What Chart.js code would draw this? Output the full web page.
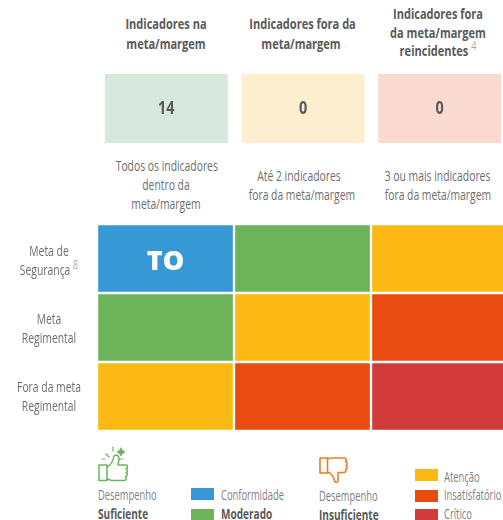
<!DOCTYPE html>
<html lang="pt">
<head>
  <meta charset="UTF-8" />
  <title>Indicadores na meta/margem</title>
  <script src="https://cdn.jsdelivr.net/npm/chart.js"></script>
  <style>
    html, body { margin: 0; padding: 0; background: #fff; overflow: hidden; }
    body { position: relative; width: 503px; height: 520px; font-family: "Open Sans", sans-serif; color: #6d6e71; font-size: 14px; }
    canvas { position: absolute; }
    .t { position: absolute; white-space: nowrap; line-height: 19px; transform: scaleX(0.74); transform-origin: left center; }
    .c { text-align: center; width: 136px; transform-origin: center center; }
    .h { font-weight: bold; color: #58595b; font-size: 14.5px; transform: scaleX(0.76); }
    .l { transform: scaleX(0.67); color: #808285; }
    b { color: #58595b; font-size: 15px; }
    sup { font-size: 12px; line-height: 0; color: #a7a9ac; font-weight: normal; }
    .sw { position: absolute; width: 23px; height: 12px; }
    svg { position: absolute; }
  </style>
</head>
<body>
  <div class="t c h" style="left:98px;top:14px;line-height:20px">Indicadores na<br>meta/margem</div>
  <div class="t c h" style="left:233px;top:14px;line-height:20px">Indicadores fora da<br>meta/margem</div>
  <div class="t c h" style="left:370px;top:5px;line-height:18.500px">Indicadores fora<br>da meta/margem<br>reincidentes <sup>4</sup></div>

  <canvas id="countChart" style="left:98px;top:74px"></canvas>

  <div class="t c" style="left:98px;top:156px">Todos os indicadores<br>dentro da<br>meta/margem</div>
  <div class="t c" style="left:231px;top:166px">Até 2 indicadores<br>fora da meta/margem</div>
  <div class="t c" style="left:367px;top:166px">3 ou mais indicadores<br>fora da meta/margem</div>

  <canvas id="matrixChart" style="left:97px;top:224px"></canvas>

  <!-- polegar para cima -->
  <svg style="left:96px;top:445px" width="34" height="40" viewBox="0 0 34 40" fill="none" stroke="#6db359" stroke-width="1.5" stroke-linejoin="round" stroke-linecap="round">
    <rect x="3" y="20" width="8" height="15.5" />
    <path d="M11 22 C15 20 17 17 18 11 C20 9 23 10 23 14 C23 16 22 18 22 20 L30 20 C32 20 32 23 30 23.500 C32 24 32 27 30 27.500 C32 28 32 31 29.500 31.500 C31 32 30.500 35.500 28 35.500 L16 35.500 C14 35.500 13 34 11 34" />
    <path d="M10 9 L13 12 M17 2 L17 6 M6 14 L9 14 M23 14 L27 14" stroke-width="1.2" />
    <path d="M25 3 L26.500 5.500 L29 7 L26.500 8.500 L25 11 L23.500 8.500 L21 7 L23.500 5.500 Z" fill="#6db359" stroke-width="0.8" />
  </svg>
  <!-- polegar para baixo -->
  <svg style="left:317px;top:456px" width="34" height="30" viewBox="0 0 34 30" fill="none" stroke="#f47b20" stroke-width="1.6" stroke-linejoin="round" stroke-linecap="round">
    <rect x="3" y="2" width="7.500" height="15" />
    <path d="M10.500 3 C13 2 14 2 16 2 L27 2 C29.500 2 30 5 28.500 5.500 C30.500 6 30.500 9 29 9.500 C30.500 10 30.500 13 28.500 13.500 C29.500 14.500 28.500 16.500 27 16.500 L21 16.500 C20.500 19 21.500 22 21 25 C20.500 27 18 27 17.500 25 C17 21 14 17 10.500 16" />
  </svg>

  <div class="t l" style="left:98px;top:485px">Desempenho</div>
  <div class="t l" style="left:98px;top:504px"><b>Suficiente</b></div>
  <div class="sw" style="left:191px;top:488px;background:#3798d6"></div>
  <div class="t l" style="left:221px;top:485px">Conformidade</div>
  <div class="sw" style="left:191px;top:509px;background:#6db359"></div>
  <div class="t l" style="left:221px;top:504px"><b>Moderado</b></div>
  <div class="t l" style="left:319px;top:486px">Desempenho</div>
  <div class="t l" style="left:319px;top:505px"><b>Insuficiente</b></div>
  <div class="sw" style="left:415px;top:469px;background:#fdb913"></div>
  <div class="t l" style="left:444px;top:467px">Atenção</div>
  <div class="sw" style="left:415px;top:490px;background:#e94b10"></div>
  <div class="t l" style="left:444px;top:485px">Insatisfatório</div>
  <div class="sw" style="left:415px;top:509px;background:#d13b3b"></div>
  <div class="t l" style="left:444px;top:504px">Crítico</div>

  <script>
    // colunas da matriz e contagem de indicadores
    const columns = ['Na meta/margem', 'Fora da meta/margem', 'Reincidentes'];
    const counts = [14, 0, 0];
    const countColors = ['#d7e8df', '#fdeed0', '#fadad0'];

    // linhas da matriz (de cima para baixo)
    const rows = ['Meta de<br>Segurança <sup>8</sup>', 'Meta<br>Regimental', 'Fora da meta<br>Regimental'];

    // nível de desempenho por célula
    const levelColors = ['#3798d6', '#6db359', '#fdb913', '#e94b10', '#d13b3b'];
    const rowSeguranca = [0, 1, 2];
    const rowRegimental = [1, 2, 3];
    const rowForaMeta = [2, 3, 4];
    const cellLabels = ['TO', '', ''];

    // escreve o texto no centro de cada barra
    const barText = {
      id: 'barText',
      afterDatasetsDraw(chart, args, opts) {
        const { ctx } = chart;
        const bars = chart.getDatasetMeta(opts.dataset).data;
        ctx.save();
        ctx.font = opts.font;
        ctx.fillStyle = opts.color;
        ctx.textAlign = 'center';
        ctx.textBaseline = 'middle';
        bars.forEach((bar, i) => {
          ctx.save();
          ctx.translate(bar.x, (bar.y + bar.base) / 2 + opts.dy);
          ctx.scale(opts.stretch, 1);
          ctx.fillText(opts.labels[i], 0, 0);
          ctx.restore();
        });
        ctx.restore();
      }
    };

    // linha das contagens
    const countCanvas = document.getElementById('countChart');
    countCanvas.width = 410;
    countCanvas.height = 69;
    new Chart(countCanvas, {
      type: 'bar',
      data: {
        labels: columns,
        datasets: [{
          data: counts.map(() => 1),
          backgroundColor: countColors,
          categoryPercentage: 0.9,
          barPercentage: 1
        }]
      },
      options: {
        responsive: false,
        animation: false,
        layout: { padding: 0 },
        scales: {
          x: { display: false },
          y: { display: false, min: 0, max: 1 }
        },
        plugins: {
          legend: { display: false },
          tooltip: { enabled: false },
          barText: { dataset: 0, labels: counts, font: 'bold 18px "Open Sans", sans-serif', color: '#58595b', stretch: 0.8, dy: 0 }
        }
      },
      plugins: [barText]
    });

    // matriz de desempenho
    const matrixRows = [rowForaMeta, rowRegimental, rowSeguranca];
    const matrixCanvas = document.getElementById('matrixChart');
    matrixCanvas.width = 411;
    matrixCanvas.height = 207;
    new Chart(matrixCanvas, {
      type: 'bar',
      data: {
        labels: columns,
        datasets: matrixRows.map(r => ({
          data: r.map(() => 1),
          backgroundColor: r.map(l => levelColors[l]),
          borderColor: '#fff',
          borderWidth: 1.5,
          borderSkipped: false,
          categoryPercentage: 1,
          barPercentage: 1
        }))
      },
      options: {
        responsive: false,
        animation: false,
        layout: { padding: 0 },
        scales: {
          x: { display: false, stacked: true },
          y: { display: false, stacked: true, min: 0, max: 3 }
        },
        plugins: {
          legend: { display: false },
          tooltip: { enabled: false },
          barText: { dataset: 2, labels: cellLabels, font: '800 27px "Open Sans", sans-serif', color: '#fff', stretch: 1, dy: 4 }
        }
      },
      plugins: [barText]
    });

    // rótulos das linhas
    rows.forEach((label, i) => {
      const div = document.createElement('div');
      div.className = 't c';
      div.style.left = '-19px';
      div.style.top = (241 + i * 68) + 'px';
      div.innerHTML = label;
      document.body.appendChild(div);
    });
  </script>
</body>
</html>
